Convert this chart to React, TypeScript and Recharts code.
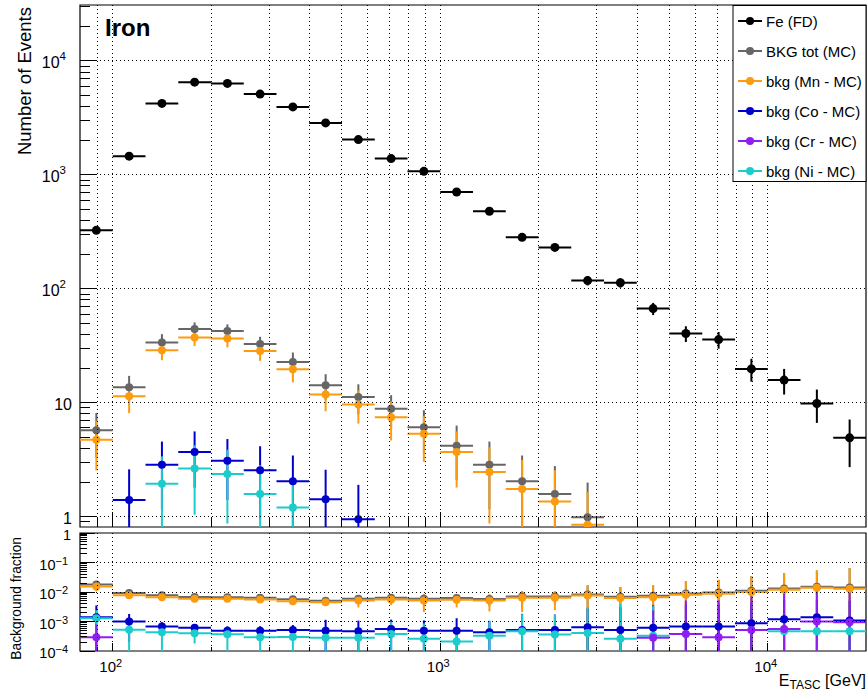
import React from 'react';
import { ScatterChart, Scatter, XAxis, YAxis, ErrorBar, ReferenceArea } from 'recharts';

// energy bins in GeV (10 per decade)
const binEdges = [79.43, 100, 125.9, 158.5, 199.5, 251.2, 316.2, 398.1, 501.2, 631.0, 794.3, 1000, 1259, 1585, 1995, 2512, 3162, 3981, 5012, 6310, 7943, 10000, 12589, 15849, 19953];
const binCenters = [89.1, 112.2, 141.3, 177.8, 223.9, 281.8, 354.8, 446.7, 562.3, 707.9, 891.3, 1122, 1413, 1778, 2239, 2818, 3548, 4467, 5623, 7079, 8913, 11220, 14125, 17783];

// upper pad: number of events
const feCounts = [326, 1460, 4240, 6520, 6350, 5120, 3950, 2860, 2040, 1390, 1074, 707, 480, 283, 231, 118, 113, 67, 40.5, 35.8, 19.8, 15.8, 9.85, 4.92];
const feErr = [18, 38, 65, 81, 80, 72, 63, 53, 45, 37, 33, 27, 22, 17, 15, 11, 10.6, 8.2, 6.4, 6, 4.5, 4, 3.2, 2.2];

const totTop = [5.73, 13.7, 33.8, 44.3, 42.6, 32.7, 22.8, 14.2, 11.2, 8.85, 6.1, 4.2, 2.86, 2.04, 1.58, 0.99, null, null, null, null, null, null, null, null];
const totTopErr = [2.4, 3.5, 6.2, 6.4, 6.1, 5.2, 4.8, 3.6, 3.3, 2.8, 2.5, 2.1, 1.7, 1.4, 1.2, 1.0, null, null, null, null, null, null, null, null];

const mnTop = [4.74, 11.4, 28.9, 37.4, 36.6, 28.5, 19.7, 11.8, 9.66, 7.46, 5.33, 3.7, 2.47, 1.75, 1.36, 0.85, null, null, null, null, null, null, null, null];
const mnTopErr = [2.2, 3.3, 5.3, 6, 6, 5.2, 4.6, 3.4, 3.1, 2.8, 2.3, 1.9, 1.6, 1.4, 1.2, 0.8, null, null, null, null, null, null, null, null];

const coTop = [null, 1.4, 2.86, 3.7, 3.1, 2.55, 2.04, 1.42, 0.95, null, null, null, null, null, null, null, null, null, null, null, null, null, null, null];
const coTopErr = [null, 1.2, 1.7, 1.9, 1.7, 1.6, 1.4, 1.16, 0.95, null, null, null, null, null, null, null, null, null, null, null, null, null, null, null];

const niTop = [null, null, 1.94, 2.64, 2.37, 1.58, 1.2, null, null, null, null, null, null, null, null, null, null, null, null, null, null, null, null, null];
const niTopErr = [null, null, 1.44, 1.6, 1.5, 1.25, 0.95, null, null, null, null, null, null, null, null, null, null, null, null, null, null, null, null, null];

// lower pad: background fraction
const totFrac = [0.018, 0.0092, 0.0078, 0.0068, 0.0067, 0.0064, 0.0057, 0.0051, 0.0059, 0.0064, 0.0059, 0.0062, 0.0058, 0.0071, 0.0071, 0.0083, 0.0069, 0.0074, 0.0089, 0.0096, 0.011, 0.0131, 0.0152, 0.0142];
const totFracErr = [0.0025, 0.0012, 0.0009, 0.0007, 0.0007, 0.0007, 0.0007, 0.0009, 0.0015, 0.0012, 0.0024, 0.0018, 0.0024, 0.0036, 0.0033, 0.0085, 0.0078, 0.0093, 0.0142, 0.016, 0.023, 0.031, 0.038, 0.05];

const mnFrac = [0.0155, 0.0077, 0.0067, 0.0059, 0.0059, 0.0056, 0.0049, 0.0045, 0.0052, 0.0056, 0.0052, 0.0055, 0.0052, 0.0064, 0.0064, 0.0076, 0.0062, 0.0067, 0.0081, 0.0088, 0.01, 0.012, 0.014, 0.013];
const mnFracErr = [0.005, 0.0015, 0.001, 0.0008, 0.0008, 0.0008, 0.0008, 0.001, 0.0022, 0.002, 0.0031, 0.0025, 0.003, 0.0043, 0.004, 0.0092, 0.0085, 0.01, 0.015, 0.017, 0.024, 0.032, 0.04, 0.052];

const coFrac = [0.0014, 0.001, 0.00068, 0.00061, 0.00049, 0.00049, 0.00052, 0.00049, 0.00047, 0.00056, 0.00049, 0.00049, 0.00043, 0.00052, 0.00052, 0.00064, 0.00052, 0.00061, 0.00068, 0.00068, 0.00088, 0.0012, 0.0014, 0.00108];
const coFracErr = [0.0021, 0.0008, 0.00027, 0.00018, 0.0002, 0.0002, 0.00024, 0.00065, 0.0006, 0.0006, 0.0006, 0.0008, 0.0006, 0.0013, 0.0012, 0.0021, 0.0025, 0.0029, 0.003, 0.003, 0.0035, 0.004, 0.004, 0.004];

const niFrac = [0.0013, 0.00053, 0.00043, 0.0004, 0.00037, 0.00029, 0.0003, 0.00028, 0.00028, 0.00038, 0.00026, 0.00021, 0.00033, 0.00047, 0.00036, 0.00041, 0.00026, 0.00033, null, null, null, 0.00047, 0.00047, 0.00047];
const niFracErr = [0.0011, 0.00045, 0.00045, 0.00022, 0.0003, 0.0002, 0.0003, 0.00028, 0.00028, 0.0006, 0.0006, 0.00021, 0.00075, 0.0013, 0.0013, 0.0027, 0.0037, 0.003, null, null, null, 0.0005, 0.0005, 0.0005];

const crFrac = [0.00029, null, null, null, null, null, null, null, null, null, null, null, null, null, null, null, null, 0.00028, 0.00038, 0.00029, 0.00052, 0.00056, 0.001, 0.00095];
const crFracErr = [0.0005, null, null, null, null, null, null, null, null, null, null, null, null, null, null, null, null, 0.0021, 0.0048, 0.0049, 0.0066, 0.012, 0.013, 0.013];

// axis ticks
const xGridTicks = [90, 100, 200, 300, 400, 500, 600, 700, 800, 900, 1000, 2000, 3000, 4000, 5000, 6000, 7000, 8000, 9000, 10000];
const xLabels = [
  { value: 100, base: '10', exp: '2' },
  { value: 1000, base: '10', exp: '3' },
  { value: 10000, base: '10', exp: '4' },
];
const topYDecades = [0.1, 1, 10, 100, 1000, 10000];
const topYLabels = [
  { value: 1, base: '1', exp: '' },
  { value: 10, base: '10', exp: '' },
  { value: 100, base: '10', exp: '2' },
  { value: 1000, base: '10', exp: '3' },
  { value: 10000, base: '10', exp: '4' },
];
const botYDecades = [0.0001, 0.001, 0.01, 0.1, 1];
const botYLabels = [
  { value: 1, base: '1', exp: '' },
  { value: 0.1, base: '10', exp: '\u22121' },
  { value: 0.01, base: '10', exp: '\u22122' },
  { value: 0.001, base: '10', exp: '\u22123' },
  { value: 0.0001, base: '10', exp: '\u22124' },
];

const legendNames = ['Fe (FD)', 'BKG tot (MC)', 'bkg (Mn - MC)', 'bkg (Co - MC)', 'bkg (Cr - MC)', 'bkg (Ni - MC)'];

const COLORS: Record<string, string> = {
  fe: '#000000',
  tot: '#666666',
  mn: '#fb9b0f',
  co: '#0000cc',
  cr: '#8f1ef2',
  ni: '#1ccccc',
};
const legendColors = [COLORS.fe, COLORS.tot, COLORS.mn, COLORS.co, COLORS.cr, COLORS.ni];

const FONT = '"Liberation Sans", Arial, Helvetica, sans-serif';

const W = 867;
const TOP_H = 528;
const BOT_H = 163;
const PL = 80;
const PR = 866;
const TOP_PT = 5;
const TOP_PB = 527;
const BOT_PT = 5;
const BOT_PB = 123;

const XMIN = 79.43;
const XMAX = 19953;
const TOP_YMIN = 0.811;
const TOP_YMAX = 31000;
const BOT_YMIN = 0.0001;
const BOT_YMAX = 1;

const isDecade = (v: number) => {
  const l = Math.log10(v);
  return Math.abs(l - Math.round(l)) < 1e-6;
};

const minorTicks = (decades: number[], lo: number, hi: number) => {
  const out: number[] = [];
  decades.forEach((d) => {
    for (let k = 1; k <= 9; k++) {
      const v = d * k;
      if (v >= lo * 0.9999 && v <= hi * 1.0001) out.push(v);
    }
  });
  return out;
};

const topYTicks = minorTicks(topYDecades, TOP_YMIN, TOP_YMAX);
const botYTicks = minorTicks(botYDecades, BOT_YMIN, BOT_YMAX);

const findLabel = (labels: { value: number; base: string; exp: string }[], v: number) =>
  labels.find((l) => Math.abs(l.value - v) / l.value < 1e-6);

interface Pt {
  x: number;
  y: number;
  ex: [number, number];
  ey: [number, number];
}

const buildPoints = (values: (number | null)[], errors: (number | null)[], ymin: number, ymax: number): Pt[] => {
  const pts: Pt[] = [];
  values.forEach((v, i) => {
    if (v == null || v < ymin || v > ymax) return;
    const e = errors[i] ?? 0;
    const x = binCenters[i];
    pts.push({
      x,
      y: v,
      ex: [x - binEdges[i], binEdges[i + 1] - x],
      ey: [Math.min(e, v - ymin), Math.min(e, ymax - v)],
    });
  });
  return pts;
};

const topSeries = [
  { key: 'fe', name: legendNames[0], r: 4.5, data: buildPoints(feCounts, feErr, TOP_YMIN, TOP_YMAX) },
  { key: 'tot', name: legendNames[1], r: 4, data: buildPoints(totTop, totTopErr, TOP_YMIN, TOP_YMAX) },
  { key: 'mn', name: legendNames[2], r: 4, data: buildPoints(mnTop, mnTopErr, TOP_YMIN, TOP_YMAX) },
  { key: 'co', name: legendNames[3], r: 4, data: buildPoints(coTop, coTopErr, TOP_YMIN, TOP_YMAX) },
  { key: 'ni', name: legendNames[5], r: 4, data: buildPoints(niTop, niTopErr, TOP_YMIN, TOP_YMAX) },
];

const botSeries = [
  { key: 'tot', name: legendNames[1], r: 4, data: buildPoints(totFrac, totFracErr, BOT_YMIN, BOT_YMAX) },
  { key: 'mn', name: legendNames[2], r: 4, data: buildPoints(mnFrac, mnFracErr, BOT_YMIN, BOT_YMAX) },
  { key: 'co', name: legendNames[3], r: 4, data: buildPoints(coFrac, coFracErr, BOT_YMIN, BOT_YMAX) },
  { key: 'ni', name: legendNames[5], r: 4, data: buildPoints(niFrac, niFracErr, BOT_YMIN, BOT_YMAX) },
  { key: 'cr', name: legendNames[4], r: 4, data: buildPoints(crFrac, crFracErr, BOT_YMIN, BOT_YMAX) },
];

const snap = (v: number) => Math.round(v - 0.5) + 0.5;

const makeYTick =
  (pt: number, pb: number, majorLen: number, minorLen: number, labels: any[], fs: number, supFs: number, raise: number, plainRight: number, expRight: number) =>
  (props: any) => {
    const { y, payload } = props;
    const v = payload.value;
    const major = isDecade(v);
    const lab = findLabel(labels, v);
    const grid = major && y > pt + 1 && y < pb - 1;
    const ys = snap(y);
    return (
      <g>
        {grid && <line x1={PL} x2={PR} y1={ys} y2={ys} stroke="#000" strokeWidth={1} strokeDasharray="1 3" shapeRendering="crispEdges" />}
        <line x1={PL} x2={PL + (major ? majorLen : minorLen)} y1={ys} y2={ys} stroke="#000" strokeWidth={1} shapeRendering="crispEdges" />
        {lab && (
          <text x={lab.exp ? expRight : plainRight} y={y + 7} textAnchor="end" fontSize={fs} fontFamily={FONT} fill="#000">
            {lab.base}
            {lab.exp && (
              <tspan dy={-raise} fontSize={supFs}>
                {lab.exp}
              </tspan>
            )}
          </text>
        )}
      </g>
    );
  };

const makeXTick = (pt: number, pb: number, majorLen: number, minorLen: number, withLabels: boolean) => (props: any) => {
  const { x, payload } = props;
  const v = payload.value;
  const major = isDecade(v);
  const lab = withLabels ? findLabel(xLabels, v) : undefined;
  const xs = snap(x);
  return (
    <g>
      <line x1={xs} x2={xs} y1={pt} y2={pb} stroke="#000" strokeWidth={1} strokeDasharray="1 3" shapeRendering="crispEdges" />
      <line x1={xs} x2={xs} y1={pb} y2={pb - (major ? majorLen : minorLen)} stroke="#000" strokeWidth={1} shapeRendering="crispEdges" />
      {lab && (
        <text x={x - 2} y={pb + 21} textAnchor="middle" fontSize={15} fontFamily={FONT} fill="#000">
          {lab.base}
          <tspan dy={-5} fontSize={11}>
            {lab.exp}
          </tspan>
        </text>
      )}
    </g>
  );
};

const dot = (color: string, r: number) => (props: any) => <circle cx={props.cx} cy={props.cy} r={r} fill={color} />;

const renderSeries = (series: typeof topSeries) =>
  series.map((s) => (
    <Scatter key={s.key} name={s.name} data={s.data} isAnimationActive={false} shape={dot(COLORS[s.key], s.r)}>
      <ErrorBar dataKey="ex" direction="x" width={0} stroke={COLORS[s.key]} strokeWidth={2} isAnimationActive={false} />
      <ErrorBar dataKey="ey" direction="y" width={0} stroke={COLORS[s.key]} strokeWidth={2} isAnimationActive={false} />
    </Scatter>
  ));

const App: React.FC = () => {
  return (
    <div style={{ position: 'absolute', left: 0, top: 0, width: W, height: TOP_H + BOT_H, background: '#fff', fontFamily: FONT }}>
      <div style={{ position: 'absolute', left: 0, top: 0 }}>
        <ScatterChart width={W} height={TOP_H} margin={{ top: TOP_PT, right: W - PR, bottom: 0, left: 0 }}>
          <XAxis
            type="number"
            dataKey="x"
            scale="log"
            domain={[XMIN, XMAX]}
            allowDataOverflow
            ticks={xGridTicks}
            interval={0}
            height={1}
            axisLine={false}
            tickLine={false}
            tick={makeXTick(TOP_PT, TOP_PB, 15, 10, false)}
          />
          <YAxis
            type="number"
            dataKey="y"
            scale="log"
            domain={[TOP_YMIN, TOP_YMAX]}
            allowDataOverflow
            ticks={topYTicks}
            interval={0}
            width={PL}
            axisLine={false}
            tickLine={false}
            tick={makeYTick(TOP_PT, TOP_PB, 17, 10, topYLabels, 16, 11.5, 8, 72, 66)}
          />
          <ReferenceArea x1={XMIN} x2={XMAX} y1={TOP_YMIN} y2={TOP_YMAX} fill="none" stroke="#000" strokeWidth={1.2} ifOverflow="visible" />
          {renderSeries(topSeries)}
        </ScatterChart>
      </div>
      <div style={{ position: 'absolute', left: 0, top: TOP_H }}>
        <ScatterChart width={W} height={BOT_H} margin={{ top: BOT_PT, right: W - PR, bottom: 0, left: 0 }}>
          <XAxis
            type="number"
            dataKey="x"
            scale="log"
            domain={[XMIN, XMAX]}
            allowDataOverflow
            ticks={xGridTicks}
            interval={0}
            height={BOT_H - BOT_PB}
            axisLine={false}
            tickLine={false}
            tick={makeXTick(BOT_PT, BOT_PB, 8, 4, true)}
          />
          <YAxis
            type="number"
            dataKey="y"
            scale="log"
            domain={[BOT_YMIN, BOT_YMAX]}
            allowDataOverflow
            ticks={botYTicks}
            interval={0}
            width={PL}
            axisLine={false}
            tickLine={false}
            tick={makeYTick(BOT_PT, BOT_PB, 15, 7, botYLabels, 14.5, 11, 5, 71, 68)}
          />
          <ReferenceArea x1={XMIN} x2={XMAX} y1={BOT_YMIN} y2={BOT_YMAX} fill="none" stroke="#000" strokeWidth={1.2} ifOverflow="visible" />
          {renderSeries(botSeries)}
        </ScatterChart>
      </div>
      <svg width={W} height={TOP_H + BOT_H} style={{ position: 'absolute', left: 0, top: 0, pointerEvents: 'none' }}>
        <text x={105} y={36} fontSize={24} fontWeight="bold" fontFamily={FONT} fill="#000">
          Iron
        </text>
        <text transform="translate(31,7) rotate(-90)" textAnchor="end" fontSize={18.5} fontFamily={FONT} fill="#000">
          Number of Events
        </text>
        <text transform="translate(21,537) rotate(-90)" textAnchor="end" fontSize={13.8} fontFamily={FONT} fill="#000">
          Background fraction
        </text>
        <text x={866} y={686} textAnchor="end" fontSize={16} fontFamily={FONT} fill="#000">
          E
          <tspan dy={3} fontSize={12}>
            TASC
          </tspan>
          <tspan dy={-3} fontSize={16}>
            {' [GeV]'}
          </tspan>
        </text>
        <rect x={733} y={5.5} width={133} height={176} fill="#fff" stroke="#000" strokeWidth={1} />
        {legendNames.map((name, i) => {
          const y = 21 + i * 30;
          return (
            <g key={name}>
              <line x1={738} x2={762} y1={y} y2={y} stroke={legendColors[i]} strokeWidth={2} />
              <circle cx={750} cy={y} r={4} fill={legendColors[i]} />
              <text x={766} y={y + 5.5} fontSize={15} fontFamily={FONT} fill="#000">
                {name}
              </text>
            </g>
          );
        })}
      </svg>
    </div>
  );
};

export default App;
